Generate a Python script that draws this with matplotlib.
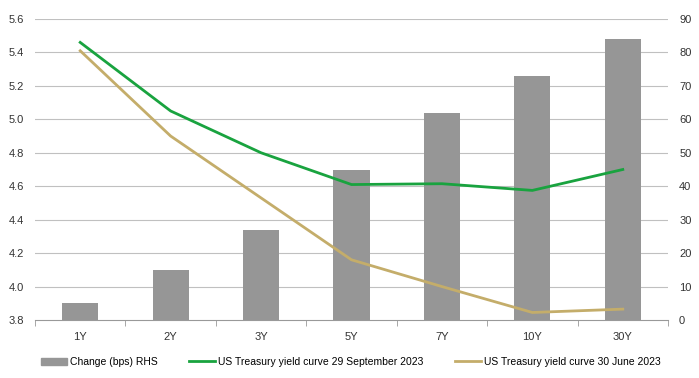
import numpy as np
import matplotlib.pyplot as plt
from matplotlib.patches import Patch
from matplotlib.lines import Line2D

plt.rcParams['font.family'] = ['Liberation Sans', 'DejaVu Sans']

# tenors and yields
tenors = ['1Y', '2Y', '3Y', '5Y', '7Y', '10Y', '30Y']
yield_sep = [5.46, 5.05, 4.80, 4.61, 4.615, 4.575, 4.70]
yield_jun = [5.41, 4.90, 4.53, 4.16, 4.00, 3.845, 3.865]
change_bps = [5, 15, 27, 45, 62, 73, 84]

green = '#19a33f'
gold = '#c4ad6a'
grey = '#969696'

fig = plt.figure(figsize=(6.99, 3.78), dpi=100)
ax = fig.add_axes([35/699, 1 - 320/378, (668-35)/699, (320-19)/378])
ax2 = ax.twinx()

x = np.arange(len(tenors))

# bars on the right axis, lines on the left one -> put lines axis on top
ax2.bar(x, change_bps, width=0.4, color=grey, zorder=2)
ax2.set_ylim(0, 90)
ax2.set_yticks(np.arange(0, 91, 10))

ax.set_zorder(ax2.get_zorder() + 1)
ax.patch.set_visible(False)
ax.plot(x, yield_sep, color=green, lw=2, zorder=3)
ax.plot(x, yield_jun, color=gold, lw=2, zorder=3)
ax.set_ylim(3.8, 5.6)
ax.set_yticks(np.arange(3.8, 5.61, 0.2))
ax.set_yticklabels(['%.1f' % v for v in np.arange(3.8, 5.61, 0.2)])
ax.set_xlim(-0.5, len(tenors) - 0.5)
ax.set_xticks(x)
ax.set_xticklabels(tenors)

# grid drawn on the bar axis so it stays behind the bars
for v in np.arange(10, 91, 10):
    ax2.axhline(v, color='#c0c0c0', lw=0.8, zorder=0)

for a in (ax, ax2):
    for s in ('top', 'left', 'right'):
        a.spines[s].set_visible(False)
    a.tick_params(labelsize=8, colors='#333333', length=0, pad=8)
ax2.spines['bottom'].set_visible(False)
ax.spines['bottom'].set_color('#999999')
ax.tick_params(axis='x', pad=9)

# category separator ticks
ax.set_xticks(np.arange(-0.5, len(tenors)), minor=True)
ax.tick_params(axis='x', which='minor', length=4, color='#999999')

handles = [Patch(color=grey),
           Line2D([], [], color=green, lw=2),
           Line2D([], [], color=gold, lw=2)]
labels = ['Change (bps) RHS',
          'US Treasury yield curve 29 September 2023',
          'US Treasury yield curve 30 June 2023']
fig.legend(handles, labels, loc='center left', bbox_to_anchor=(41/699, 1 - 362/378), ncol=3,
           frameon=False, fontsize=7.5, handlelength=2.5, handleheight=0.7,
           handletextpad=0.3, columnspacing=3.0, borderpad=0, borderaxespad=0)

fig.savefig('out.png', dpi=100)
